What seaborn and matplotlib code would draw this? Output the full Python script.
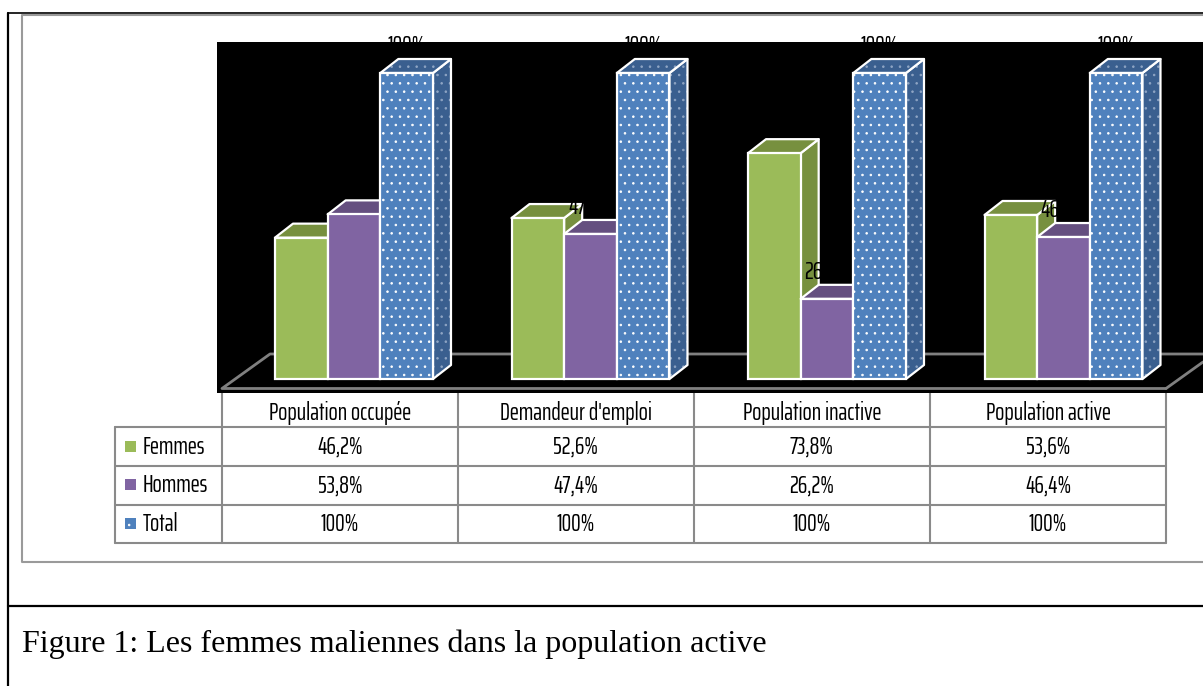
import matplotlib
matplotlib.use("Agg")
import matplotlib.pyplot as plt
import pandas as pd
import seaborn as sns
from matplotlib.patches import Polygon, Rectangle

# donnees du graphique
categories = ["Population occupée", "Demandeur d'emploi", "Population inactive", "Population active"]
series = ["Femmes", "Hommes", "Total"]
femmes = [46.2, 52.6, 73.8, 53.6]
hommes = [53.8, 47.4, 26.2, 46.4]
total = [100, 100, 100, 100]
caption = "Figure 1: Les femmes maliennes dans la population active"

front_colors = ["#9BBB59", "#8064A2", "#4F81BD"]
dark_colors = ["#77903F", "#654F80", "#3A5F8F"]

W, H = 1203, 686

sns.set_theme(style="white")
plt.rcParams["hatch.linewidth"] = 0.6
narrow = dict(family=["Saira ExtraCondensed", "Pathway Gothic One", "Liberation Sans"], fontsize=17.5, weight="normal")


def fmt(v):
    if float(v).is_integer():
        return f"{int(v)}%"
    return f"{v:.1f}%".replace(".", ",")


fig = plt.figure(figsize=(W / 100, H / 100), dpi=100, facecolor="white")

# calque en pixels pour les cadres et le tableau
page = fig.add_axes([0, 0, 1, 1], zorder=0)
page.set_xlim(0, W)
page.set_ylim(H, 0)
page.axis("off")

# cadres de la page
page.plot([7.5, 7.5], [13, H], color="black", lw=1.6)
page.plot([7.5, W], [13, 13], color="black", lw=1.2)
page.plot([7.5, W], [605.5, 605.5], color="black", lw=1.6)
page.plot([W, 22, 22, W], [15, 15, 561.5, 561.5], color="#9A9A9A", lw=1.5)
page.text(22, 652, caption, family="Liberation Serif", fontsize=23, color="black", va="baseline")

# zone noire + barres
left, right, top, bottom = 217, 1203, 42, 393
ax = fig.add_axes([left / W, 1 - bottom / H, (right - left) / W, (bottom - top) / H], zorder=1)

df = pd.DataFrame({
    "categorie": categories * 3,
    "serie": [s for s in series for _ in categories],
    "valeur": femmes + hommes + total,
})
sns.barplot(data=df, x="categorie", y="valeur", hue="serie", order=categories, hue_order=series,
            palette=front_colors, saturation=1, width=0.668, gap=0, legend=False, ax=ax)

x0, step = 354, 236.5
px_y = 3.06
ax.set_xlim((left - x0) / step, (right - x0) / step)
ax.set_ylim(-(bottom - 379) / px_y, (379 - top) / px_y)
ax.set_facecolor("black")
ax.set_xlabel("")
ax.set_ylabel("")
ax.set_xticks([])
ax.set_yticks([])
for s in ax.spines.values():
    s.set_visible(False)

# sol de la perspective
ax.plot([1166, 222, 270, W], [388.5, 388.5, 354, 354], color="#808080", lw=2,
        transform=page.transData, clip_on=False, zorder=1)
ax.plot([1166, W], [388.5, 362], color="#808080", lw=2, transform=page.transData, clip_on=False, zorder=1)

# faces 3D tirees des barres de seaborn
dx, dy = 18 / step, 14 / px_y
for i, cont in enumerate(ax.containers):
    z = 2 + i * 2
    is_total = series[i] == "Total"
    for j, bar in enumerate(cont):
        x, w, h = bar.get_x(), bar.get_width(), bar.get_height()
        side = [(x + w, 0), (x + w + dx, dy), (x + w + dx, h + dy), (x + w, h)]
        roof = [(x, h), (x + dx, h + dy), (x + w + dx, h + dy), (x + w, h)]
        for pts in (side, roof):
            # points plus ternes sur les faces sombres
            if is_total:
                ax.add_patch(Polygon(pts, facecolor=dark_colors[i], edgecolor="#8FA5C4", hatch="..", lw=0, zorder=z))
            else:
                ax.add_patch(Polygon(pts, facecolor=dark_colors[i], edgecolor="none", zorder=z))
            ax.add_patch(Polygon(pts, fill=False, edgecolor="white", lw=1.6, joinstyle="round", zorder=z))
        bar.set_edgecolor("white")
        bar.set_linewidth(1.6)
        bar.set_hatch(".." if is_total else None)
        bar.set_zorder(z + 0.5)
        # etiquette noire, en partie cachee comme dans l'original
        ax.annotate(fmt(h), (x + w / 2, h), xytext=(0, 27 * 0.72), textcoords="offset points",
                    ha="center", va="center", color="black", zorder=z + 1, annotation_clip=False, **narrow)

# tableau de donnees
col_x = [222, 458, 694, 930, 1166]
row_y = [427, 466, 504.5, 543]
grid = "#8A8A8A"
for x in col_x:
    page.plot([x, x], [393, row_y[-1]], color=grid, lw=1.5)
for y in row_y:
    page.plot([115, col_x[-1]], [y, y], color=grid, lw=1.5)
page.plot([115, 115], [row_y[0], row_y[-1]], color=grid, lw=1.5)

for c, name in enumerate(categories):
    page.text((col_x[c] + col_x[c + 1]) / 2, 413, name, ha="center", va="center", color="black", **narrow)
rows = [femmes, hommes, total]
for r, vals in enumerate(rows):
    yc = (row_y[r] + row_y[r + 1]) / 2
    page.add_patch(Rectangle((125, yc - 6), 11, 11, facecolor=front_colors[r], edgecolor="white",
                             lw=0, hatch=".." if series[r] == "Total" else None))
    page.text(143, yc, series[r], va="center", color="black", **narrow)
    for c, v in enumerate(vals):
        page.text((col_x[c] + col_x[c + 1]) / 2, yc, fmt(v), ha="center", va="center", color="black", **narrow)

fig.savefig("out.png", dpi=100)
